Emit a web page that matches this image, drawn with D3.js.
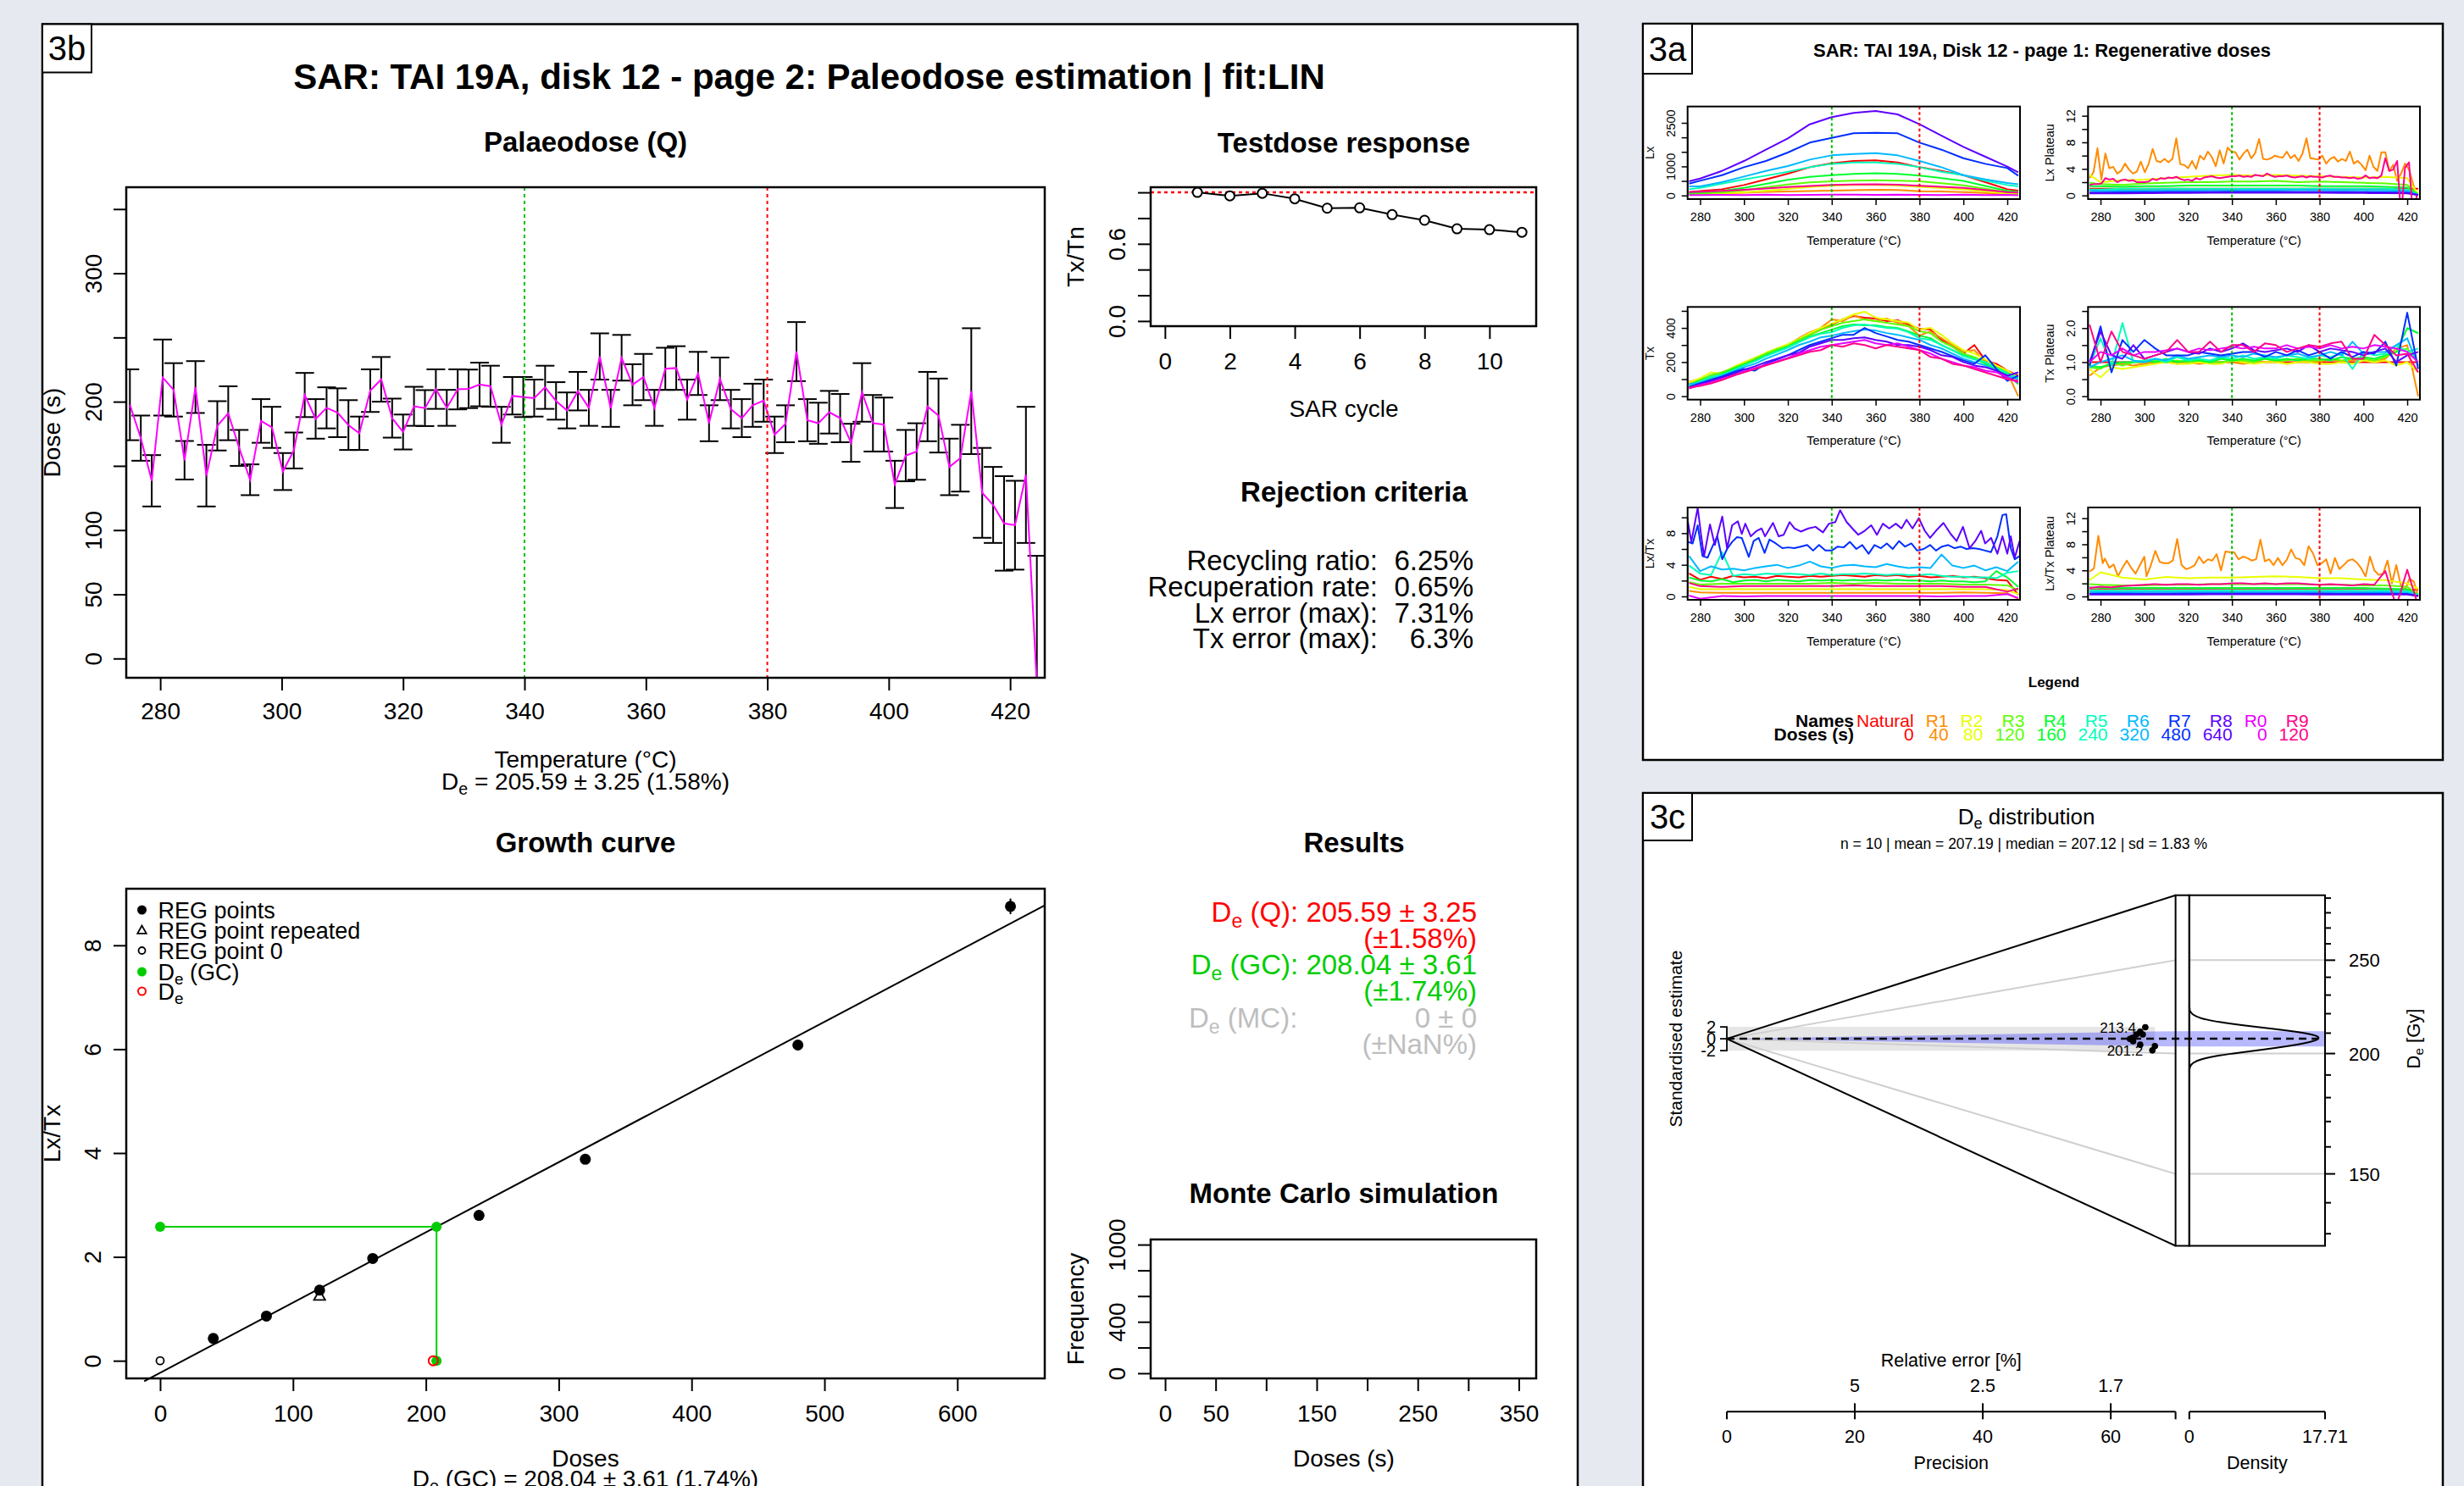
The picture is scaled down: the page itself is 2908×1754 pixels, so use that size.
<!DOCTYPE html>
<html><head><meta charset="utf-8">
<script src="https://cdn.jsdelivr.net/npm/d3@7"></script>
<style>
html,body{margin:0;padding:0;background:#e6eaf0;}
svg{display:block;}
</style></head><body>
<svg id="chart" width="2908" height="1754"></svg>
<script>
// ======================= DATA =======================
// --- 3b: Palaeodose (Q) ---
const channelTemps = [275.0,276.8,278.6,280.4,282.2,284.0,285.8,287.6,289.4,291.2,293.0,294.8,296.6,298.4,300.2,302.0,303.8,305.6,307.4,309.2,311.0,312.8,314.6,316.4,318.2,320.0,321.8,323.6,325.4,327.2,329.0,330.8,332.6,334.4,336.2,338.0,339.8,341.6,343.4,345.2,347.0,348.8,350.6,352.4,354.2,356.0,357.8,359.6,361.4,363.2,365.0,366.8,368.6,370.4,372.2,374.0,375.8,377.6,379.4,381.2,383.0,384.8,386.6,388.4,390.2,392.0,393.8,395.6,397.4,399.2,401.0,402.8,404.6,406.4,408.2,410.0,411.8,413.6,415.4,417.2,419.0,420.8,422.6,424.4];
const palDose = [197.6,171.6,138.4,218.8,209.2,154.4,211.4,142.4,181.2,191.0,164.0,139.2,185.0,180.0,145.6,162.0,205.2,186.6,195.2,191.4,181.8,175.4,208.6,217.4,187.2,176.4,196.4,195.0,209.8,195.2,209.6,210.0,213.4,212.0,182.0,204.6,203.6,202.8,211.2,200.6,193.2,208.2,195.2,235.2,194.8,234.2,213.2,219.2,195.2,225.6,226.2,201.6,222.0,183.2,217.8,194.2,187.2,197.2,200.8,174.2,182.8,239.0,185.6,183.2,191.8,187.2,168.0,207.2,183.2,182.2,135.6,158.0,161.2,196.2,189.2,149.2,156.0,208.2,129.0,119.6,105.2,103.8,143.0,-20];
const palErr = [27.6,17.6,20,29.6,20.8,15,20.2,24,19.2,21,14,12,17,16,14.4,14,17.2,15.4,16,19,19.4,13,16.6,17.4,15.2,13.6,15.2,14,15.4,14,15.6,15,17,16,14,14.6,15.6,14.4,16.8,14.6,14,15,14,18,14.4,17.8,16,18,14,16.4,17,15.6,16.8,14,16.6,15,14.8,16.8,16.4,14.2,14.4,23,16.4,16,16.6,18.8,14.8,22.8,22,21,18.4,20,22,27,28.8,22,26,49,35,29.6,36.8,34.6,53,100];
const palTempTicks = [280,300,320,340,360,380,400,420];
const palDoseTicks = [0,50,100,150,200,250,300,350];
const palDoseLabels = [0,50,100,200,300];
const plateauLimits = [340,380];
const deQ = 205.59, deQErr = 3.25, deQRel = 1.58;
const deGC = 208.04, deGCErr = 3.61, deGCRel = 1.74;

// --- 3b: Testdose response ---
const tdCycle = [1,2,3,4,5,6,7,8,9,10,11];
const tdRatio = [1.0,0.973,0.993,0.95,0.877,0.88,0.827,0.783,0.717,0.71,0.69];
const tdXTicks = [0,2,4,6,8,10];
const tdYTicks = [0,0.2,0.4,0.6,0.8,1.0];
const tdYLabels = [0,0.6];

// --- 3b: Rejection criteria ---
const critLabels = ["Recycling ratio:","Recuperation rate:","Lx error (max):","Tx error (max):"];
const critValues = ["6.25%","0.65%","7.31%","6.3%"];

// --- 3b: Growth curve ---
const regDose = [40,80,120,160,240,320,480,640];
const regLxTx = [0.43,0.86,1.36,1.97,2.80,3.88,6.08,8.75];
const regErr  = [0.03,0.03,0.05,0.05,0.05,0.06,0.08,0.15];
const repDose = [120], repLxTx = [1.25];
const zeroDose = [0], zeroLxTx = [0.0];
const naturalLxTx = 2.58;
const fitSlope = 0.01352, fitIntercept = -0.232;
const fitRange = [-12, 665.8];
const gcXTicks = [0,100,200,300,400,500,600];
const gcYTicks = [0,2,4,6,8];

// --- 3b: Monte Carlo ---
const mcXTicks = [0,50,100,150,200,250,300,350];
const mcXLabels = [0,50,150,250,350];
const mcYTicks = [0,200,400,600,800,1000];
const mcYLabels = [0,400,1000];

// --- 3a: Regenerative doses ---
const seriesNames = ["Natural","R1","R2","R3","R4","R5","R6","R7","R8","R0","R9"];
const seriesDoses = [0,40,80,120,160,240,320,480,640,0,120];
const seriesColors = ["#FF0000","#FF8B00","#E8FF00","#5DFF00","#00FF2E","#00FFB9","#00B9FF","#002EFF","#5D00FF","#E800FF","#FF008B"];
const tCoarse = [275,280,290,300,310,320,330,340,350,360,370,380,390,400,410,420,425];
const t5 = [275,280,285,290,295,300,305,310,315,320,325,330,335,340,345,350,355,360,365,370,375,380,385,390,395,400,405,410,415,420,425];
const ones17 = [1,1,1,1,1,1,1,1,1,1,1,1,1,1,1,1,1];

const lxData = [
 [117,150,214,360,554,749,973,1109,1187,1206,1138,973,846,700,457,214,165],
 [39,50,70,97,120,140,155,165,180,195,185,146,140,117,90,39,30],
 [35,45,70,109,160,227,290,336,360,365,345,295,255,212,140,65,45],
 [60,75,110,180,280,380,450,486,510,525,510,486,420,350,230,110,85],
 [90,110,160,260,400,540,640,700,740,768,740,681,600,500,330,160,120],
 [214,260,409,554,681,817,973,1089,1138,1138,1089,973,817,700,506,360,311],
 [311,311,457,652,846,1012,1235,1381,1430,1459,1381,1187,973,700,554,428,389],
 [409,506,700,973,1187,1479,1819,1984,2140,2160,2140,1819,1576,1284,1089,943,681],
 [486,584,846,1187,1576,1965,2451,2695,2840,2908,2792,2451,2062,1673,1333,992,798],
 [10,15,20,10,25,15,20,30,25,20,30,20,15,25,10,20,5],
 [117,130,160,195,240,292,330,360,380,389,370,331,300,263,190,117,100]
];
const lxPlateauData = [
 ones17,
 [2.6,3.5,7.1,2.4,6.3,4.1,4.3,3.3,3.7,4.8,3.9,3.3,3.6,5.1,3.5,4.8,7.0,5.2,5.0,5.5,5.0,5.5,8.6,4.7,4.6,4.1,5.2,4.0,6.0,5.4,6.6,5.8,4.4,6.8,4.8,7.2,6.6,6.5,5.4,6.3,6.9,5.6,6.4,8.5,5.5,5.4,5.6,6.0,5.8,5.7,6.6,5.6,6.1,5.2,6.3,8.6,5.6,5.5,5.4,6.0,4.8,5.5,5.8,5.1,5.5,5.2,6.6,4.8,5.2,4.6,3.8,6.0,4.3,3.7,6.5,6.5,3.7,4.6,2.2,3.3,4.8,3.9,1.8,0],
 [3.1,2.0,2.3,2.4,2.6,2.8,3.0,3.1,3.0,3.1,3.0,2.9,2.8,2.7,2.8,2.6,0.2],
 [1.9,1.7,1.6,1.8,1.9,2.0,2.0,2.1,2.1,2.2,2.0,2.1,2.0,1.9,1.8,1.6,0.1],
 [1.4,1.4,1.3,1.4,1.4,1.5,1.5,1.5,1.5,1.5,1.5,1.4,1.4,1.4,1.3,1.2,0.1],
 [0.9,0.9,1.0,1.0,1.0,1.0,1.0,1.0,1.0,1.0,1.0,1.0,1.0,1.0,1.0,0.9,0.1],
 [0.75,0.7,0.72,0.74,0.75,0.77,0.79,0.8,0.81,0.82,0.82,0.82,0.8,0.78,0.75,0.7,0.1],
 [0.45,0.45,0.48,0.5,0.52,0.54,0.55,0.56,0.56,0.56,0.55,0.54,0.52,0.5,0.48,0.45,0.05],
 [0.3,0.3,0.32,0.35,0.37,0.38,0.4,0.41,0.42,0.42,0.41,0.4,0.38,0.36,0.34,0.3,0.05],
 null,
 [1.6,1.7,1.7,1.8,2.6,2.4,2.5,2.0,2.3,2.4,2.2,2.3,2.0,2.0,2.0,2.1,2.5,2.3,2.6,2.5,2.7,2.6,2.8,2.5,2.3,2.4,2.2,2.6,2.4,2.7,2.8,2.9,2.7,2.6,2.7,2.8,2.9,2.9,3.0,2.8,2.9,2.8,3.1,3.0,2.9,3.3,3.0,2.8,2.9,2.9,3.0,2.8,2.7,2.8,2.9,2.7,2.9,2.8,2.8,2.7,2.9,3.0,2.8,2.8,2.7,2.7,2.6,2.7,2.5,2.6,3.0,2.6,2.7,2.6,3.0,5.6,3.7,3.9,5.2,-3,4.2,5.0,-3,0]
];
const txData = [
 [75,90,110,135,160,188,215,245,265,290,330,360,390,420,450,470,460,455,440,445,420,395,390,330,290,250,300,210,190,150,120],
 [85,100,115,140,165,190,225,240,270,300,340,375,400,450,440,475,450,440,455,430,410,355,380,340,300,260,270,200,170,140,0],
 [80,105,140,130,170,200,225,255,280,305,335,370,400,425,450,480,495,460,450,440,430,390,400,360,310,270,250,215,180,150,110],
 [70,95,125,140,165,190,220,250,275,295,330,360,390,410,430,440,450,440,430,420,410,380,370,320,290,250,230,200,170,140,100],
 [65,90,110,130,160,185,210,240,265,290,320,350,370,390,410,420,415,415,405,400,380,355,340,300,270,240,220,190,160,130,70],
 [60,85,115,125,150,180,205,235,260,285,315,345,365,375,400,415,420,410,400,395,375,340,330,300,270,235,215,200,165,135,110],
 [70,80,100,120,145,170,190,220,245,270,300,320,345,355,370,380,390,385,370,360,345,330,300,280,250,220,200,180,150,120,100],
 [55,75,95,115,140,160,150,190,215,240,270,300,320,340,360,360,400,370,350,330,320,300,280,260,235,210,190,240,160,90,120],
 [50,70,90,110,130,155,175,200,220,240,255,290,310,330,330,340,345,330,320,300,300,290,270,240,230,200,180,170,150,120,140],
 [45,65,80,100,120,145,165,185,205,225,250,270,290,300,310,320,330,310,300,310,290,270,250,220,200,180,170,150,140,110,80],
 [50,60,75,95,120,140,160,180,200,220,240,260,270,300,290,310,300,280,300,290,280,270,230,220,190,180,160,140,120,100,90]
];
const txPlateauData = [
 ones17,
 [0.6,0.85,0.9,0.95,0.9,0.95,1.0,1.0,0.95,1.0,0.95,1.0,1.0,1.0,0.95,1.0,1.0,1.05,0.95,1.0,1.05,1.0,1.1,1.0,1.05,1.1,1.0,1.1,1.4,1.5,0.0],
 [0.8,0.55,0.85,0.8,0.85,0.9,0.95,1.0,0.95,0.95,1.0,0.95,0.95,1.05,1.0,0.95,1.0,1.0,0.95,1.0,1.0,0.95,0.95,1.0,0.95,1.05,1.0,1.05,0.9,1.0,0.7],
 [0.85,0.8,1.0,0.9,1.0,1.0,1.05,1.0,1.05,1.0,1.05,1.0,1.0,1.05,1.05,1.0,1.1,1.05,1.05,1.1,1.05,1.05,1.1,1.05,1.1,1.1,1.05,1.15,1.3,1.4,1.0],
 [0.9,0.85,0.95,1.0,1.0,1.05,1.0,1.1,1.0,1.05,1.05,1.0,1.1,1.05,1.1,1.05,1.1,1.05,1.1,1.05,1.1,1.1,1.05,1.15,1.1,1.15,1.1,1.2,1.3,2.0,1.85],
 [0.9,1.7,0.9,2.15,1.0,1.05,1.1,1.0,1.15,1.05,1.1,1.05,1.15,1.1,1.2,1.1,1.15,1.1,1.2,1.15,1.1,1.2,1.15,1.25,0.8,1.3,1.2,1.25,1.5,1.3,1.4],
 [0.85,1.0,1.1,1.2,1.05,1.0,1.1,1.05,1.2,1.1,1.15,1.2,1.15,1.2,1.15,1.25,1.2,1.15,1.2,1.25,1.15,1.2,1.3,1.2,1.6,1.25,1.3,1.3,1.5,1.7,0.9],
 [0.9,2.05,0.7,1.65,1.3,1.65,1.4,1.2,1.2,1.2,1.3,1.25,1.2,1.25,1.3,1.3,1.15,1.3,1.2,1.35,1.2,1.3,1.1,1.3,1.15,1.3,1.25,1.6,0.9,2.45,0.8],
 [1.0,1.9,1.2,1.1,1.5,1.1,1.2,1.3,1.4,1.3,1.25,1.4,1.3,1.4,1.55,1.35,1.3,1.35,1.4,1.3,1.5,1.3,1.4,1.35,1.3,1.2,1.3,1.4,1.0,1.2,1.3],
 [1.0,1.3,1.2,1.4,1.2,1.3,1.3,1.35,1.4,1.3,1.4,1.35,1.4,1.45,1.4,1.45,1.4,1.4,1.5,1.4,1.45,1.4,1.5,1.4,1.45,1.4,1.5,1.45,1.4,1.3,1.0],
 [2.1,1.0,1.9,1.3,1.2,1.1,1.2,1.3,1.65,1.3,1.3,1.6,1.3,1.5,1.5,1.3,1.55,1.5,1.3,1.4,1.5,1.45,1.55,1.6,1.1,1.1,1.8,1.5,1.2,1.25,0.7]
];
const lxtxData = [
 [2.9,2.1,2.5,2.2,2.6,2.4,2.5,2.3,2.6,2.5,2.4,2.6,2.5,2.6,2.7,2.6,2.5,2.7,2.6,2.7,2.5,2.6,2.4,2.5,2.6,2.4,2.5,2.3,2.1,2.0,0.2],
 [0.7,0.5,0.45,0.45,0.45,0.45,0.45,0.45,0.45,0.45,0.45,0.45,0.45,0.5,0.45,0.4,-0.3],
 [1.2,0.9,0.9,0.9,0.9,0.9,0.9,0.9,0.9,0.9,0.9,0.9,0.9,0.9,0.9,0.8,0.3],
 [1.8,1.5,1.6,1.6,1.6,1.6,1.6,1.7,1.6,1.7,1.6,1.6,1.6,1.5,1.5,1.4,0.8],
 [2.4,2.0,1.9,2.2,1.8,2.0,2.1,1.9,2.1,2.0,1.9,2.1,2.0,2.1,2.0,2.1,2.0,2.1,2.0,2.1,2.0,2.0,1.9,2.0,1.9,1.9,1.8,1.9,3.2,2.4,1.2],
 [3.9,2.9,2.7,5.6,2.6,2.8,2.7,2.9,2.8,2.9,2.8,2.7,2.9,2.7,2.8,2.8,2.9,2.8,2.7,2.8,2.7,2.7,2.8,2.6,2.5,2.5,2.4,2.4,2.3,3.0,3.2],
 [5.1,3.2,3.8,3.4,3.5,3.3,3.6,3.8,4.0,3.6,3.9,4.4,3.8,3.6,3.9,4.0,3.8,3.7,4.1,3.8,3.6,3.7,3.6,5.3,3.9,3.6,3.9,3.3,3.7,3.2,4.4],
 [[274.4,6.9],[276.6,6.7],[278.9,9.0],[281.1,5.1],[283.4,4.9],[285.6,6.3],[287.8,7.6],[290.1,4.7],[292.3,6.0],[294.6,6.9],[296.8,7.5],[299.0,7.4],[302.2,5.0],[304.4,7.0],[306.7,7.4],[309.4,5.5],[311.6,7.2],[314.5,6.7],[317.5,6.1],[320.2,6.2],[322.9,6.1],[325.9,6.3],[328.8,6.5],[331.5,5.8],[334.2,6.5],[337.1,5.8],[340.0,5.8],[342.7,6.3],[345.4,6.2],[348.3,6.9],[351.2,6.0],[353.9,6.5],[356.8,5.4],[359.5,6.5],[362.4,6.1],[365.1,6.7],[367.8,6.0],[370.7,7.0],[373.4,6.3],[376.3,6.7],[378.9,5.8],[381.9,6.0],[384.8,6.5],[387.5,5.8],[390.2,6.3],[393.1,6.5],[396.0,6.1],[398.7,6.3],[401.4,6.0],[404.3,6.1],[407.2,6.0],[409.9,5.8],[412.6,5.6],[415.5,7.6],[417.8,10.3],[419.5,10.4],[421.6,6.1],[423.4,4.7],[425.6,5.1]],
 [[274.4,9.5],[276.0,6.9],[278.9,11.2],[280.4,7.9],[281.8,5.1],[284.5,9.1],[286.7,6.5],[290.1,10.1],[292.3,6.1],[294.6,9.0],[297.2,9.5],[299.0,7.9],[300.6,9.2],[303.1,7.6],[305.8,8.3],[308.0,8.6],[309.6,7.6],[313.2,9.3],[315.8,7.6],[318.1,7.8],[320.8,9.4],[323.0,8.6],[325.9,8.2],[329.3,8.6],[332.6,8.8],[336.0,8.1],[338.7,9.2],[341.6,9.4],[343.8,10.9],[346.8,9.4],[349.4,8.6],[352.1,7.8],[355.0,8.3],[358.0,9.0],[360.6,7.8],[363.3,9.2],[366.2,8.6],[369.2,9.2],[371.8,8.6],[374.1,9.7],[376.8,8.6],[379.7,9.9],[382.4,8.3],[384.8,7.4],[387.5,8.3],[390.9,9.3],[394.2,7.9],[396.9,7.0],[399.8,8.8],[402.8,6.1],[405.4,7.0],[408.1,8.3],[409.9,6.7],[412.6,7.4],[415.5,5.4],[417.8,7.6],[420.0,5.4],[421.6,7.6],[423.4,4.9],[425.6,7.0]],
 [0.1,-0.3,0.05,0.0,0.05,0.05,0.05,0.05,0.05,0.05,0.05,0.05,0.0,0.05,0.05,0.3,-0.2],
 [1.7,1.3,1.2,1.3,1.3,1.3,1.3,1.3,1.4,1.3,1.3,1.3,1.3,1.2,1.2,0.6,1.0]
];
const lxtxPlateauData = [
 ones17,
 [[275,3.8],[277,4.3],[279,9.3],[281,5.1],[282,5.8],[284,4.4],[286,4.9],[288,3.1],[290,4.4],[292,5.5],[294,4.4],[296,3.5],[298,4.8],[300,6.1],[301,3.1],[303,4.8],[305,7.0],[307,5.3],[309,5.1],[311,5.1],[313,5.5],[315,8.8],[317,4.8],[319,4.2],[321,4.4],[323,4.8],[325,6.1],[327,5.1],[329,5.7],[331,5.5],[333,6.5],[335,4.0],[337,6.9],[339,6.8],[341,6.8],[343,5.7],[345,6.1],[347,5.9],[349,5.5],[351,5.7],[353,8.7],[355,5.4],[357,5.7],[359,4.8],[361,5.9],[363,4.8],[365,5.6],[367,7.2],[369,5.9],[371,5.7],[373,4.8],[375,7.7],[377,6.6],[379,4.8],[381,5.1],[383,5.7],[385,3.5],[387,5.9],[389,4.2],[391,4.8],[393,5.5],[395,5.7],[397,5.2],[399,4.3],[401,3.1],[403,6.1],[405,4.0],[407,3.3],[409,3.5],[411,5.5],[413,2.0],[415,4.8],[417,1.8],[419,1.0],[421,2.7],[423,2.3],[425,0]],
 [2.5,3.7,2.9,2.6,3.0,2.8,2.9,2.9,3.0,3.1,3.0,2.8,2.8,2.6,2.5,2.0,1.2],
 [1.9,1.8,1.7,1.7,1.8,1.8,1.9,1.9,1.9,1.9,1.9,1.8,1.8,1.7,1.7,1.5,0.3],
 [1.4,1.3,1.3,1.3,1.3,1.3,1.3,1.3,1.3,1.3,1.3,1.3,1.3,1.3,1.2,1.1,0.2],
 [0.95,0.9,0.93,0.95,0.95,0.95,0.95,0.95,0.95,0.95,0.95,0.95,0.95,0.95,0.9,0.85,0.2],
 [0.67,0.65,0.66,0.67,0.67,0.68,0.68,0.68,0.68,0.68,0.68,0.68,0.67,0.66,0.65,0.62,0.1],
 [0.43,0.42,0.43,0.43,0.43,0.44,0.44,0.44,0.44,0.44,0.44,0.44,0.43,0.43,0.42,0.4,0.05],
 [0.3,0.29,0.3,0.3,0.3,0.3,0.31,0.31,0.31,0.31,0.31,0.3,0.3,0.3,0.29,0.28,0.05],
 null,
 [1.3,1.5,1.4,1.6,1.7,1.8,1.9,1.8,1.9,1.9,1.8,1.9,1.9,2.0,2.0,1.9,2.0,1.9,2.0,2.0,1.9,1.8,1.9,1.8,1.7,1.9,1.8,3.9,-1.5,4.1,-1.5]
];
const tempTicks3a = [280,300,320,340,360,380,400,420];

// --- 3c: De distribution ---
const deValues = [213.4,211.0,209.5,209.5,207.7,207.1,205.9,204.0,201.2,203.4];
const dePrecision = [65.4,64.6,64.0,65.0,63.4,63.0,63.5,64.6,66.5,66.9];
const deStats = {n:10, mean:207.19, median:207.12, sd:1.83};
const deAxisTicks = [150,200,250];
const deAxisMinor = [130,140,160,170,180,190,210,220,230,240,260,270,280,290];
const precTicks = [0,20,40,60];
const relErrTicks = [20,40,60];
const relErrLabels = ["5","2.5","1.7"];
const stdTicks = [2,0,-2];
const densityMax = 17.71;

// ======================= DRAWING =======================
const FONT = "'Liberation Sans', Arial, Helvetica, sans-serif";
const svg = d3.select("#chart");
const defs = svg.append("defs");
const root = svg.append("g");

function T(g, x, y, s, o = {}) {
  const t = g.append("text").attr("x", x).attr("y", y)
    .attr("font-size", o.size || 28).attr("text-anchor", o.anchor || "middle")
    .attr("fill", o.fill || "#000").attr("font-family", FONT);
  if (o.bold) t.attr("font-weight", "bold");
  if (o.rot) t.attr("transform", `rotate(${o.rot},${x},${y})`);
  if (s !== null) t.text(s);
  return t;
}
function DeT(g, x, y, post, o = {}) {
  const fs = o.size || 28;
  const t = T(g, x, y, null, o);
  t.append("tspan").text("D");
  t.append("tspan").attr("font-size", fs * 0.7).attr("dy", fs * 0.2).text("e");
  t.append("tspan").attr("dy", -fs * 0.2).text(post);
  return t;
}
function clip(id, x0, y0, x1, y1) {
  defs.append("clipPath").attr("id", id).append("rect")
    .attr("x", x0).attr("y", y0).attr("width", x1 - x0).attr("height", y1 - y0);
  return `url(#${id})`;
}
function box(g, x0, y0, x1, y1, sw) {
  g.append("rect").attr("x", x0).attr("y", y0).attr("width", x1 - x0).attr("height", y1 - y0)
    .attr("fill", "none").attr("stroke", "#000").attr("stroke-width", sw || 2.5);
}
function axB(g, sc, y, ticks, labels, o) {
  const a = d3.axisBottom(sc).tickValues(ticks).tickSizeOuter(0).tickSize(o.tick).tickPadding(o.pad)
    .tickFormat(d => labels.indexOf(d) >= 0 ? (o.fmt ? o.fmt(d) : String(d)) : "");
  const ag = g.append("g").attr("transform", `translate(0,${y})`).call(a);
  ag.select(".domain").attr("d", `M${sc(ticks[0])},0H${sc(ticks[ticks.length - 1])}`)
    .attr("stroke", "#000").attr("stroke-width", o.sw);
  ag.selectAll(".tick line").attr("stroke", "#000").attr("stroke-width", o.sw);
  ag.selectAll(".tick text").attr("font-size", o.size).attr("font-family", FONT).attr("fill", "#000");
  return ag;
}
function axL(g, sc, x, ticks, labels, o) {
  const a = d3.axisLeft(sc).tickValues(ticks).tickSizeOuter(0).tickSize(o.tick)
    .tickFormat(d => labels.indexOf(d) >= 0 ? (o.fmt ? o.fmt(d) : String(d)) : "");
  const ag = g.append("g").attr("transform", `translate(${x},0)`).call(a);
  ag.select(".domain").attr("d", `M0,${sc(ticks[0])}V${sc(ticks[ticks.length - 1])}`)
    .attr("stroke", "#000").attr("stroke-width", o.sw);
  ag.selectAll(".tick line").attr("stroke", "#000").attr("stroke-width", o.sw);
  ag.selectAll(".tick text").attr("x", null).attr("dy", null).attr("text-anchor", "middle")
    .attr("transform", `translate(${-(o.tick + o.pad)},0) rotate(-90)`)
    .attr("font-size", o.size).attr("font-family", FONT).attr("fill", "#000");
  return ag;
}

// background & panels
root.append("rect").attr("width", 2908).attr("height", 1754).attr("fill", "#e6eaf0");
function panel(x, y, w, h, label, lh) {
  root.append("rect").attr("x", x).attr("y", y).attr("width", w).attr("height", h)
    .attr("fill", "#fff").attr("stroke", "#000").attr("stroke-width", 2.5);
  root.append("rect").attr("x", x).attr("y", y).attr("width", 58).attr("height", lh)
    .attr("fill", "#fff").attr("stroke", "#000").attr("stroke-width", 2);
  T(root, x + 29, y + lh / 2 + 14, label, {size: 40});
}
panel(50, 28.5, 1812, 1800, "3b", 57);
panel(1939, 28, 944, 869, "3a", 59);
panel(1939, 936, 944, 900, "3c", 56);

// ---------------- 3b ----------------
const g3b = root.append("g");
T(g3b, 955, 105, "SAR: TAI 19A, disk 12 - page 2: Paleodose estimation | fit:LIN", {size: 42, bold: true});

// Palaeodose
(function () {
  const x0 = 149, x1 = 1233, y0 = 221, y1 = 800;
  const xs = d3.scaleLinear().domain([274.4, 425.7]).range([x0, x1]);
  const ys = d3.scaleLinear().domain([-15, 367]).range([y1, y0]);
  const g = g3b.append("g");
  const cg = g.append("g").attr("clip-path", clip("clipPal", x0, y0, x1, y1));
  const pts = palDose.map((d, i) => ({t: channelTemps[i], d, e: palErr[i]}));
  const bars = cg.append("g").attr("stroke", "#000").attr("stroke-width", 2);
  pts.forEach(p => {
    const xx = xs(p.t), ya = ys(p.d - p.e), yb = ys(p.d + p.e);
    bars.append("line").attr("x1", xx).attr("x2", xx).attr("y1", ya).attr("y2", yb);
    bars.append("line").attr("x1", xx - 11).attr("x2", xx + 11).attr("y1", ya).attr("y2", ya);
    bars.append("line").attr("x1", xx - 11).attr("x2", xx + 11).attr("y1", yb).attr("y2", yb);
  });
  cg.append("path").datum(pts).attr("fill", "none").attr("stroke", "#ff00ff").attr("stroke-width", 2)
    .attr("d", d3.line().x(p => xs(p.t)).y(p => ys(p.d)));
  [["#00c000", plateauLimits[0]], ["#ff0000", plateauLimits[1]]].forEach(([c, t]) => {
    g.append("line").attr("x1", xs(t)).attr("x2", xs(t)).attr("y1", y0).attr("y2", y1)
      .attr("stroke", c).attr("stroke-width", 2).attr("stroke-dasharray", "4,4");
  });
  box(g, x0, y0, x1, y1);
  axB(g, xs, y1, palTempTicks, palTempTicks, {tick: 15, pad: 14, size: 28, sw: 2});
  axL(g, ys, x0, palDoseTicks, palDoseLabels, {tick: 15, pad: 14, size: 28, sw: 2});
  T(g, 691, 179, "Palaeodose (Q)", {size: 33, bold: true});
  T(g, 691, 906, "Temperature (°C)", {size: 28});
  DeT(g, 691, 932, ` = ${deQ.toFixed(2)} ± ${deQErr.toFixed(2)} (${deQRel.toFixed(2)}%)`, {size: 28});
  T(g, 71, (y0 + y1) / 2, "Dose (s)", {size: 28, rot: -90});
})();

// Testdose response
(function () {
  const x0 = 1358, x1 = 1813, y0 = 221, y1 = 385;
  const xs = d3.scaleLinear().domain([-0.44, 11.44]).range([x0, x1]);
  const ys = d3.scaleLinear().domain([-0.04, 1.04]).range([y1, y0]);
  const g = g3b.append("g");
  g.append("line").attr("x1", x0).attr("x2", x1).attr("y1", ys(1)).attr("y2", ys(1))
    .attr("stroke", "#ff0000").attr("stroke-width", 2.5).attr("stroke-dasharray", "4,4");
  const pts = tdCycle.map((c, i) => [c, tdRatio[i]]);
  g.append("path").datum(pts).attr("fill", "none").attr("stroke", "#000").attr("stroke-width", 2)
    .attr("d", d3.line().x(d => xs(d[0])).y(d => ys(d[1])));
  g.selectAll("circle.td").data(pts).enter().append("circle")
    .attr("cx", d => xs(d[0])).attr("cy", d => ys(d[1])).attr("r", 5.5)
    .attr("fill", "#fff").attr("stroke", "#000").attr("stroke-width", 2);
  box(g, x0, y0, x1, y1);
  axB(g, xs, y1, tdXTicks, tdXTicks, {tick: 15, pad: 16, size: 28, sw: 2});
  axL(g, ys, x0, tdYTicks, tdYLabels, {tick: 15, pad: 15, size: 28, sw: 2, fmt: d3.format(".1f")});
  T(g, 1586, 180, "Testdose response", {size: 33, bold: true});
  T(g, 1586, 492, "SAR cycle", {size: 28});
  T(g, 1279, (y0 + y1) / 2, "Tx/Tn", {size: 28, rot: -90});
})();

// Rejection criteria
(function () {
  const g = g3b.append("g");
  T(g, 1598, 592, "Rejection criteria", {size: 33, bold: true});
  critLabels.forEach((l, i) => {
    const y = 673 + i * 30.8;
    T(g, 1626, y, l, {size: 33, anchor: "end"});
    T(g, 1739, y, critValues[i], {size: 33, anchor: "end"});
  });
})();

// Growth curve
(function () {
  const x0 = 149, x1 = 1233, y0 = 1049, y1 = 1627;
  const xs = d3.scaleLinear().domain([-25.5, 665.8]).range([x0, x1]);
  const ys = d3.scaleLinear().domain([-0.34, 9.09]).range([y1, y0]);
  const g = g3b.append("g");
  const green = "#00cd00";
  g.append("line").attr("x1", xs(fitRange[0])).attr("y1", ys(fitIntercept + fitSlope * fitRange[0]))
    .attr("x2", xs(fitRange[1])).attr("y2", ys(fitIntercept + fitSlope * fitRange[1]))
    .attr("stroke", "#000").attr("stroke-width", 2);
  g.append("path").attr("fill", "none").attr("stroke", green).attr("stroke-width", 2)
    .attr("d", `M${xs(0)},${ys(naturalLxTx)}H${xs(deGC)}V${ys(0)}`);
  // REG points with error bars
  regDose.forEach((d, i) => {
    g.append("line").attr("x1", xs(d)).attr("x2", xs(d)).attr("y1", ys(regLxTx[i] - regErr[i])).attr("y2", ys(regLxTx[i] + regErr[i]))
      .attr("stroke", "#000").attr("stroke-width", 2);
    g.append("circle").attr("cx", xs(d)).attr("cy", ys(regLxTx[i])).attr("r", 6.5).attr("fill", "#000");
  });
  function tri(gg, cx, cy, s) {
    gg.append("path").attr("d", `M${cx},${cy - s}L${cx - s * 0.95},${cy + s * 0.7}L${cx + s * 0.95},${cy + s * 0.7}Z`)
      .attr("fill", "none").attr("stroke", "#000").attr("stroke-width", 1.8);
  }
  repDose.forEach((d, i) => tri(g, xs(d), ys(repLxTx[i]), 7));
  zeroDose.forEach((d, i) => g.append("circle").attr("cx", xs(d)).attr("cy", ys(zeroLxTx[i])).attr("r", 4.5)
    .attr("fill", "none").attr("stroke", "#000").attr("stroke-width", 1.8));
  g.append("line").attr("x1", xs(deGC - deGCErr)).attr("x2", xs(deGC + deGCErr)).attr("y1", ys(0)).attr("y2", ys(0))
    .attr("stroke", "#000").attr("stroke-width", 2);
  [[0, naturalLxTx], [deGC, naturalLxTx], [deGC, 0]].forEach(p =>
    g.append("circle").attr("cx", xs(p[0])).attr("cy", ys(p[1])).attr("r", 6).attr("fill", green));
  g.append("circle").attr("cx", xs(deQ)).attr("cy", ys(0)).attr("r", 5.5).attr("fill", "none")
    .attr("stroke", "#ff0000").attr("stroke-width", 2);
  box(g, x0, y0, x1, y1);
  axB(g, xs, y1, gcXTicks, gcXTicks, {tick: 15, pad: 16, size: 28, sw: 2});
  axL(g, ys, x0, gcYTicks, gcYTicks, {tick: 15, pad: 15, size: 28, sw: 2});
  // legend
  const lx = 167.5, tx = 186.6, rows = [1074, 1098, 1122, 1147, 1170];
  g.append("circle").attr("cx", lx).attr("cy", rows[0]).attr("r", 5.5).attr("fill", "#000");
  T(g, tx, rows[0] + 9.5, "REG points", {size: 27, anchor: "start"});
  tri(g, lx, rows[1], 5.5);
  T(g, tx, rows[1] + 9.5, "REG point repeated", {size: 27, anchor: "start"});
  g.append("circle").attr("cx", lx).attr("cy", rows[2]).attr("r", 4).attr("fill", "none").attr("stroke", "#000").attr("stroke-width", 1.8);
  T(g, tx, rows[2] + 9.5, "REG point 0", {size: 27, anchor: "start"});
  g.append("circle").attr("cx", lx).attr("cy", rows[3]).attr("r", 5.5).attr("fill", green);
  DeT(g, tx, rows[3] + 9.5, " (GC)", {size: 27, anchor: "start"});
  g.append("circle").attr("cx", lx).attr("cy", rows[4]).attr("r", 4.5).attr("fill", "none").attr("stroke", "#ff0000").attr("stroke-width", 2);
  DeT(g, tx, rows[4] + 9.5, "", {size: 27, anchor: "start"});
  T(g, 691, 1006, "Growth curve", {size: 33, bold: true});
  T(g, 691, 1731, "Doses", {size: 28});
  DeT(g, 691, 1755, ` (GC) = ${deGC.toFixed(2)} ± ${deGCErr.toFixed(2)} (${deGCRel.toFixed(2)}%)`, {size: 28});
  T(g, 71, (y0 + y1) / 2, "Lx/Tx", {size: 28, rot: -90});
})();

// Results
(function () {
  const g = g3b.append("g");
  const red = "#ff0000", green = "#00cd00", grey = "#bebebe";
  T(g, 1598, 1006, "Results", {size: 33, bold: true});
  DeT(g, 1743, 1088, ` (Q): ${deQ.toFixed(2)} ± ${deQErr.toFixed(2)}`, {size: 33, anchor: "end", fill: red});
  T(g, 1743, 1119, `(±${deQRel.toFixed(2)}%)`, {size: 33, anchor: "end", fill: red});
  DeT(g, 1743, 1150, ` (GC): ${deGC.toFixed(2)} ± ${deGCErr.toFixed(2)}`, {size: 33, anchor: "end", fill: green});
  T(g, 1743, 1181, `(±${deGCRel.toFixed(2)}%)`, {size: 33, anchor: "end", fill: green});
  DeT(g, 1403, 1213, " (MC):", {size: 33, anchor: "start", fill: grey});
  T(g, 1743, 1213, "0 ± 0", {size: 33, anchor: "end", fill: grey});
  T(g, 1743, 1244, "(±NaN%)", {size: 33, anchor: "end", fill: grey});
})();

// Monte Carlo
(function () {
  const x0 = 1358, x1 = 1813, y0 = 1463, y1 = 1627;
  const xs = d3.scaleLinear().domain([-14.3, 367.2]).range([x0, x1]);
  const ys = d3.scaleLinear().domain([-40, 1040]).range([y1, y0]);
  const g = g3b.append("g");
  box(g, x0, y0, x1, y1);
  axB(g, xs, y1, mcXTicks, mcXLabels, {tick: 15, pad: 16, size: 28, sw: 2});
  axL(g, ys, x0, mcYTicks, mcYLabels, {tick: 15, pad: 15, size: 28, sw: 2});
  T(g, 1586, 1420, "Monte Carlo simulation", {size: 33, bold: true});
  T(g, 1586, 1731, "Doses (s)", {size: 28});
  T(g, 1279, (y0 + y1) / 2, "Frequency", {size: 28, rot: -90});
})();

// ---------------- 3a ----------------
const g3a = root.append("g");
T(g3a, 2410, 67, "SAR: TAI 19A, Disk 12 - page 1: Regenerative doses", {size: 22, bold: true});
function toPts(arr) {
  if (!arr) return [];
  if (Array.isArray(arr[0])) return arr;
  const grid = arr.length === 17 ? tCoarse : arr.length === 31 ? t5 : channelTemps;
  return arr.map((v, i) => [grid[i], v]);
}
let clipN = 0;
function subplot(x0, y0, x1, y1, yDom, yTicks, yLabels, yTitle, data, fmt) {
  const g = g3a.append("g");
  const xs = d3.scaleLinear().domain([274.3, 425.8]).range([x0, x1]);
  const ys = d3.scaleLinear().domain(yDom).range([y1, y0]);
  const cg = g.append("g").attr("clip-path", clip("c3a" + (clipN++), x0, y0, x1, y1));
  const line = d3.line().x(d => xs(d[0])).y(d => ys(d[1]));
  data.forEach((arr, i) => {
    if (!arr) return;
    cg.append("path").datum(toPts(arr)).attr("fill", "none").attr("stroke", seriesColors[i])
      .attr("stroke-width", 2).attr("stroke-linejoin", "round").attr("d", line);
  });
  [["#00c000", plateauLimits[0]], ["#ff0000", plateauLimits[1]]].forEach(([c, t]) => {
    g.append("line").attr("x1", xs(t)).attr("x2", xs(t)).attr("y1", y0).attr("y2", y1)
      .attr("stroke", c).attr("stroke-width", 2).attr("stroke-dasharray", "3.5,3");
  });
  box(g, x0, y0, x1, y1, 2);
  axB(g, xs, y1, tempTicks3a, tempTicks3a, {tick: 7, pad: 9, size: 14.5, sw: 1.5});
  axL(g, ys, x0, yTicks, yLabels, {tick: 7, pad: 8, size: 14.5, sw: 1.5, fmt});
  T(g, (x0 + x1) / 2, y1 + 53.5, "Temperature (°C)", {size: 14.5});
  T(g, x0 - 40, (y0 + y1) / 2, yTitle, {size: 14.5, rot: -90});
}
const cL = [1991.7, 2384], cR = [2464.3, 2856];
const r1 = [125.7, 235], r2 = [362.3, 471.7], r3 = [599, 708];
subplot(cL[0], r1[0], cL[1], r1[1], [-125, 3063], [0,500,1000,1500,2000,2500], [0,1000,2500], "Lx", lxData);
subplot(cR[0], r1[0], cR[1], r1[1], [-0.55, 13.4], [0,2,4,6,8,10,12], [0,4,8,12], "Lx Plateau", lxPlateauData);
subplot(cL[0], r2[0], cL[1], r2[1], [-20, 523], [0,100,200,300,400,500], [0,200,400], "Tx", txData);
subplot(cR[0], r2[0], cR[1], r2[1], [-0.1, 2.62], [0,0.5,1,1.5,2,2.5], [0,1,2], "Tx Plateau", txPlateauData, d3.format(".1f"));
subplot(cL[0], r3[0], cL[1], r3[1], [-0.43, 11.25], [0,2,4,6,8,10], [0,4,8], "Lx/Tx", lxtxData);
subplot(cR[0], r3[0], cR[1], r3[1], [-0.52, 13.65], [0,2,4,6,8,10,12], [0,4,8,12], "Lx/Tx Plateau", lxtxPlateauData);

// legend 3a
(function () {
  const g = g3a.append("g");
  T(g, 2424, 811, "Legend", {size: 17, bold: true});
  T(g, 2188, 858, "Names", {size: 21, bold: true, anchor: "end"});
  T(g, 2188, 874, "Doses (s)", {size: 21, bold: true, anchor: "end"});
  let cur = 2191;
  seriesNames.forEach((n, i) => {
    const a = T(g, 0, 858, n, {size: 21, anchor: "end", fill: seriesColors[i]});
    const b = T(g, 0, 874, String(seriesDoses[i]), {size: 21, anchor: "end", fill: seriesColors[i]});
    const w = Math.max(a.node().getComputedTextLength(), b.node().getComputedTextLength());
    const right = cur + w;
    a.attr("x", right); b.attr("x", right);
    cur = right + 14;
  });
})();

// ---------------- 3c ----------------
(function () {
  const g = root.append("g");
  DeT(g, 2391.6, 973, " distribution", {size: 26});
  T(g, 2388.5, 1002, `n = ${deStats.n} | mean = ${deStats.mean.toFixed(2)} | median = ${deStats.median.toFixed(2)} | sd = ${deStats.sd.toFixed(2)} %`, {size: 17.5});
  const ox = 2038, xEdge = 2567.6, yTop = 1056.7, yBot = 1470.5;
  const nbR = 2583.8, dbR = 2744;
  const deY = d3.scaleLog().domain([126.3, 292]).range([yBot, yTop]);
  const precMax = 70.13;
  const precX = d3.scaleLinear().domain([0, precMax]).range([ox, xEdge]);
  const densX = d3.scaleLinear().domain([0, densityMax]).range([nbR, dbR]);
  const yc = deY(deStats.mean);
  const stdPx = (yBot - yTop) / Math.log(292 / 126.3) / precMax;
  const maxPrec = d3.max(dePrecision);
  // +-2 band
  g.append("rect").attr("x", ox).attr("y", yc - 2 * stdPx).attr("width", precX(maxPrec) - ox).attr("height", 4 * stdPx).attr("fill", "#e6e6e6");
  // grey reference lines
  deAxisTicks.forEach(v => {
    g.append("line").attr("x1", ox).attr("y1", yc).attr("x2", xEdge).attr("y2", deY(v)).attr("stroke", "#cfcfcf").attr("stroke-width", 2);
    g.append("line").attr("x1", nbR).attr("x2", dbR).attr("y1", deY(v)).attr("y2", deY(v)).attr("stroke", "#cfcfcf").attr("stroke-width", 2);
  });
  // blue central polygon
  const hiV = deStats.mean * (1 + deStats.sd / 100), loV = deStats.mean * (1 - deStats.sd / 100);
  g.append("path").attr("d", `M${ox},${yc}L${xEdge},${deY(hiV)}L${xEdge},${deY(loV)}Z`).attr("fill", "rgba(40,40,255,0.33)");
  g.append("rect").attr("x", xEdge).attr("y", deY(hiV)).attr("width", dbR - xEdge).attr("height", deY(loV) - deY(hiV)).attr("fill", "rgba(40,40,255,0.33)");
  // KDE
  const zVals = deValues.map(Math.log);
  const bw = 0.0145;
  const kde = z => d3.mean(zVals, zi => Math.exp(-0.5 * ((z - zi) / bw) ** 2)) / (bw * Math.sqrt(2 * Math.PI));
  const z0 = Math.log(deStats.mean);
  const zs = d3.range(z0 - 0.08, z0 + 0.08, 0.001);
  const dens = zs.map(z => [densX(kde(z)), deY(Math.exp(z))]);
  const peakX = d3.max(dens, d => d[0]);
  // dashed center line
  g.append("line").attr("x1", ox).attr("x2", peakX).attr("y1", yc).attr("y2", yc)
    .attr("stroke", "#000").attr("stroke-width", 2.5).attr("stroke-dasharray", "9,6");
  // polygon outline
  g.append("path").attr("d", `M${xEdge},${yTop}L${ox},${yc}L${xEdge},${yBot}`).attr("fill", "none").attr("stroke", "#000").attr("stroke-width", 2);
  box(g, xEdge, yTop, nbR, yBot, 2);
  box(g, nbR, yTop, dbR, yBot, 2);
  g.append("path").datum(dens).attr("fill", "none").attr("stroke", "#000").attr("stroke-width", 2)
    .attr("d", d3.line().x(d => d[0]).y(d => d[1]));
  // points
  const pts = deValues.map((v, i) => ({v, p: dePrecision[i], x: precX(dePrecision[i]), y: yc + (deY(v) - yc) * dePrecision[i] / precMax}));
  g.selectAll("circle.dp").data(pts).enter().append("circle").attr("cx", d => d.x).attr("cy", d => d.y).attr("r", 3.8).attr("fill", "#000");
  const pMax = pts[d3.maxIndex(pts, d => d.v)], pMin = pts[d3.minIndex(pts, d => d.v)];
  T(g, pMax.x - 11, pMax.y + 6, pMax.v.toFixed(1), {size: 17, anchor: "end"});
  T(g, pMin.x - 11, pMin.y + 6, pMin.v.toFixed(1), {size: 17, anchor: "end"});
  // standardised axis bracket
  g.append("path").attr("d", `M${ox - 8},${yc - 2 * stdPx}H${ox}V${yc + 2 * stdPx}H${ox - 8}M${ox - 8},${yc}H${ox}`)
    .attr("fill", "none").attr("stroke", "#000").attr("stroke-width", 1.8);
  stdTicks.forEach(s => T(g, ox - 13, yc - s * stdPx + 7, String(s), {size: 20, anchor: "end"}));
  T(g, 1985, yc, "Standardised estimate", {size: 21, rot: -90});
  // right De axis
  g.append("line").attr("x1", dbR).attr("x2", dbR).attr("y1", deY(d3.min(deAxisMinor))).attr("y2", deY(d3.max(deAxisMinor))).attr("stroke", "#000").attr("stroke-width", 2);
  deAxisMinor.forEach(v => g.append("line").attr("x1", dbR).attr("x2", dbR + 7).attr("y1", deY(v)).attr("y2", deY(v)).attr("stroke", "#000").attr("stroke-width", 2));
  deAxisTicks.forEach(v => {
    g.append("line").attr("x1", dbR).attr("x2", dbR + 12).attr("y1", deY(v)).attr("y2", deY(v)).attr("stroke", "#000").attr("stroke-width", 2);
    T(g, 2772, deY(v) + 8, String(v), {size: 22, anchor: "start"});
  });
  DeT(g, 2856, 1226, " [Gy]", {size: 22, rot: -90});
  // bottom axes
  const ya = 1666.3;
  g.append("line").attr("x1", ox).attr("x2", xEdge).attr("y1", ya).attr("y2", ya).attr("stroke", "#000").attr("stroke-width", 2);
  [...precTicks, precMax].forEach(p => g.append("line").attr("x1", precX(p)).attr("x2", precX(p)).attr("y1", ya).attr("y2", ya + 9).attr("stroke", "#000").attr("stroke-width", 2));
  relErrTicks.forEach(p => g.append("line").attr("x1", precX(p)).attr("x2", precX(p)).attr("y1", ya - 10).attr("y2", ya).attr("stroke", "#000").attr("stroke-width", 2));
  precTicks.forEach(p => T(g, precX(p), 1703, String(p), {size: 21.5}));
  relErrTicks.forEach((p, i) => T(g, precX(p), 1643, relErrLabels[i], {size: 21.5}));
  T(g, (ox + xEdge) / 2, 1613, "Relative error [%]", {size: 21.5});
  T(g, (ox + xEdge) / 2, 1734, "Precision", {size: 21.5});
  g.append("line").attr("x1", nbR).attr("x2", dbR).attr("y1", ya).attr("y2", ya).attr("stroke", "#000").attr("stroke-width", 2);
  [nbR, dbR].forEach(x => g.append("line").attr("x1", x).attr("x2", x).attr("y1", ya).attr("y2", ya + 9).attr("stroke", "#000").attr("stroke-width", 2));
  T(g, nbR, 1703, "0", {size: 21.5});
  T(g, dbR, 1703, densityMax.toFixed(2), {size: 21.5});
  T(g, (nbR + dbR) / 2, 1734, "Density", {size: 21.5});
})();
</script>
</body></html>
